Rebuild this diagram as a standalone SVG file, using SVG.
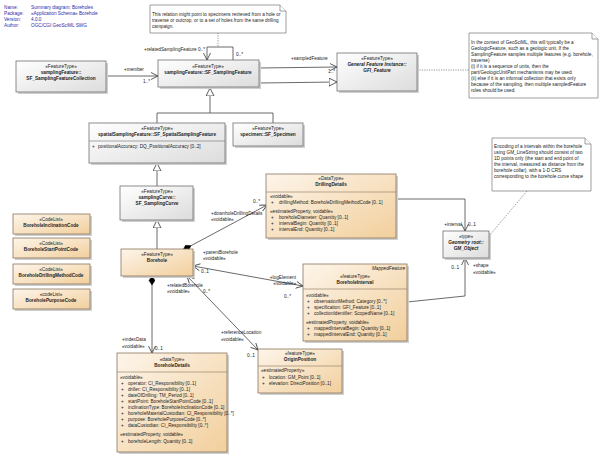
<svg xmlns="http://www.w3.org/2000/svg" width="602" height="458" viewBox="0 0 602 458">
<defs>
<linearGradient id="gg" x1="0" y1="0" x2="1" y2="1"><stop offset="0" stop-color="#ffffff"/><stop offset="1" stop-color="#dcdcdc"/></linearGradient>
<linearGradient id="og" x1="0" y1="0" x2="1" y2="1"><stop offset="0" stop-color="#fdf5ea"/><stop offset="1" stop-color="#f2cf9c"/></linearGradient>
<marker id="oa" markerUnits="userSpaceOnUse" markerWidth="10" markerHeight="10" refX="7" refY="4" orient="auto"><path d="M0,0.5 L7,4 L0,7.5" fill="none" stroke="#333" stroke-width="0.8"/></marker>
<marker id="oas" markerUnits="userSpaceOnUse" markerWidth="10" markerHeight="10" refX="0" refY="4" orient="auto"><path d="M7,0.5 L0,4 L7,7.5" fill="none" stroke="#333" stroke-width="0.8"/></marker>
<marker id="tri" markerUnits="userSpaceOnUse" markerWidth="12" markerHeight="12" refX="8" refY="4.5" orient="auto"><path d="M0,0.5 L8,4.5 L0,8.5 Z" fill="#fff" stroke="#333" stroke-width="0.8"/></marker>
<marker id="dia" markerUnits="userSpaceOnUse" markerWidth="12" markerHeight="8" refX="0" refY="3" orient="auto"><path d="M0,3 L4.5,0 L9,3 L4.5,6 Z" fill="#000" stroke="#000" stroke-width="0.5"/></marker>
</defs>
<style>
text{font-family:"Liberation Sans",Arial,sans-serif;font-size:4.7px;fill:#222}
.b{font-weight:bold}
.i{font-style:italic}
.c{text-anchor:middle}
.r{text-anchor:end}
.gb{fill:url(#gg);stroke:#707070;stroke-width:0.8}
.ob{fill:url(#og);stroke:#8a7560;stroke-width:0.8}
.sh{fill:#cfcfcf}
.note{fill:#fff;stroke:#777;stroke-width:0.7}
.sep{stroke:#8a7560;stroke-width:0.6}
.gsep{stroke:#707070;stroke-width:0.6}
.ln{fill:none;stroke:#444;stroke-width:0.8}
.dot{fill:none;stroke:#666;stroke-width:0.7;stroke-dasharray:1.2,1.2}
.hd{fill:#2a2aa8}
</style>

<g id="header">
<text x="4" y="9" class="hd">Name:</text><text x="31" y="9" class="hd">Summary diagram: Boreholes</text>
<text x="4" y="15" class="hd">Package:</text><text x="31" y="15" class="hd">«Application Schema» Borehole</text>
<text x="4" y="21" class="hd">Version:</text><text x="31" y="21" class="hd">4.0.0</text>
<text x="4" y="27" class="hd">Author:</text><text x="31" y="27" class="hd">OGC/CGI GeoSciML SWG</text>
</g>

<g id="connectors">
<path class="ln" d="M106,76 H158" marker-end="url(#oa)"/>
<path class="ln" d="M233,60 V47 H207 V60" marker-end="url(#oa)"/>
<path class="dot" d="M218,33 V47"/>
<path class="ln" d="M259,68 L337,67" marker-end="url(#oa)"/>
<path class="ln" d="M259,83 L337,82" marker-end="url(#tri)"/>
<path class="dot" d="M417,70 H469"/>
<path class="ln" d="M157,123 V113 H273 V123"/>
<path class="ln" d="M210,113 V88" marker-end="url(#tri)"/>
<path class="ln" d="M157,186 V163" marker-end="url(#tri)"/>
<path class="ln" d="M157,249 V220" marker-end="url(#tri)"/>
<path class="ln" d="M183,250 L267,205" marker-start="url(#dia)" marker-end="url(#oa)"/>
<path class="ln" d="M193,266 L303,286" marker-start="url(#oas)" marker-end="url(#oa)"/>
<path class="ln" d="M187,276 L258,350" marker-start="url(#oas)" marker-end="url(#oa)"/>
<path class="ln" d="M152,276 V353" marker-start="url(#dia)" marker-end="url(#oa)"/>
<path class="ln" d="M396,199 H465 V231" marker-end="url(#oa)"/>
<path class="ln" d="M407,302 L465,296 V258" marker-end="url(#oa)"/>
<path class="dot" d="M489,236 L527,191"/>
<text x="205" y="51" class="r">+relatedSamplingFeature 0..*</text>
<text x="236" y="56">0..*</text>
<text x="124" y="71">+member</text>
<text x="143" y="83">1..*</text>
<text x="291" y="60">+sampledFeature</text>
<text x="328" y="73">1..*</text>
<text x="211" y="215">+downholeDrillingDetails</text>
<text x="211" y="221">«voidable»</text>
<text x="253" y="203">0..*</text>
<text x="203" y="254">+parentBorehole</text>
<text x="203" y="260">«voidable»</text>
<text x="201" y="273">0..1</text>
<text x="296" y="279" class="r">+logElement</text>
<text x="296" y="285" class="r">«voidable»</text>
<text x="291" y="298" class="r">0..*</text>
<text x="167" y="287">+relatedBorehole</text>
<text x="167" y="293">«voidable»</text>
<text x="203" y="293">0..*</text>
<text x="221" y="334">+referenceLocation</text>
<text x="221" y="341">«voidable»</text>
<text x="247" y="357">0..1</text>
<text x="122" y="341">+indexData</text>
<text x="122" y="348">«voidable»</text>
<text x="155" y="350">0..1</text>
<text x="462" y="226" class="r">+interval</text>
<text x="468" y="226">0..1</text>
<text x="459" y="269" class="r">0..1</text>
<text x="473" y="267">+shape</text>
<text x="473" y="274">«voidable»</text>
</g>

<g id="note1">
<path class="note" d="M150,5 H280 L286,11 V33 H150 Z"/>
<path class="note" d="M280,5 V11 H286"/>
<text x="152" y="16">This relation might point to specimens retrieved from a hole or</text>
<text x="152" y="22">traverse or outcrop, or to a set of holes from the same drilling</text>
<text x="152" y="28">campaign.</text>
</g>

<g id="SF_SamplingFeatureCollection">
<rect class="sh" x="18" y="63" width="90" height="31"/>
<rect class="gb" x="16" y="61" width="90" height="31"/>
<text x="61" y="68" class="c">«FeatureType»</text>
<text x="61" y="74" class="c b">samplingFeature::</text>
<text x="61" y="80" class="c b">SF_SamplingFeatureCollection</text>
</g>

<g id="SF_SamplingFeature">
<rect class="sh" x="160" y="62" width="101" height="27"/>
<rect class="gb" x="158" y="60" width="101" height="27"/>
<text x="208" y="68" class="c">«FeatureType»</text>
<text x="208" y="74" class="c b">samplingFeature::SF_SamplingFeature</text>
</g>

<g id="GFI_Feature">
<rect class="sh" x="339" y="55" width="80" height="38"/>
<rect class="gb" x="337" y="53" width="80" height="38"/>
<text x="377" y="60" class="c">«FeatureType»</text>
<text x="377" y="66" class="c b i">General Feature Instance::</text>
<text x="377" y="72" class="c b i">GFI_Feature</text>
</g>

<g id="note2">
<path class="note" d="M469,33 H592 L598,39 V98 H469 Z"/>
<path class="note" d="M592,33 V39 H598"/>
<text x="471" y="44">In the context of GeoSciML, this will typically be a</text>
<text x="471" y="50">GeologicFeature, such as a geologic unit. If the</text>
<text x="471" y="56">SamplingFeature samples multiple features (e.g. borehole,</text>
<text x="471" y="62">traverse)</text>
<text x="471" y="68">(i) if it is a sequence of units, then the</text>
<text x="471" y="74">part/GeologicUnitPart mechanisms may be used.</text>
<text x="471" y="80">(ii) else if it is an informal collection that exists only</text>
<text x="471" y="86">because of the sampling, then multiple sampledFeature</text>
<text x="471" y="92">roles should be used.</text>
</g>

<g id="SF_SpatialSamplingFeature">
<rect class="sh" x="91" y="125" width="136" height="40"/>
<rect class="gb" x="89" y="123" width="136" height="40"/>
<line class="gsep" x1="89" y1="141" x2="225" y2="141"/>
<text x="157" y="130" class="c">«FeatureType»</text>
<text x="157" y="136" class="c b">spatialSamplingFeature::SF_SpatialSamplingFeature</text>
<text x="92" y="148">+</text><text x="98" y="148">positionalAccuracy: DQ_PositionalAccuracy [0..2]</text>
</g>

<g id="SF_Specimen">
<rect class="sh" x="235" y="125" width="70" height="23"/>
<rect class="gb" x="233" y="123" width="70" height="23"/>
<text x="268" y="130" class="c">«FeatureType»</text>
<text x="268" y="136" class="c b">specimen::SF_Specimen</text>
</g>

<g id="SF_SamplingCurve">
<rect class="sh" x="122" y="188" width="73" height="34"/>
<rect class="gb" x="120" y="186" width="73" height="34"/>
<text x="157" y="193" class="c">«FeatureType»</text>
<text x="157" y="199" class="c b">samplingCurve::</text>
<text x="157" y="205" class="c b">SF_SamplingCurve</text>
</g>

<g id="Borehole">
<rect class="sh" x="123" y="251" width="72" height="27"/>
<rect class="ob" x="121" y="249" width="72" height="27"/>
<text x="157" y="256" class="c">«FeatureType»</text>
<text x="157" y="262" class="c b">Borehole</text>
</g>

<g id="BoreholeInclinationCode">
<rect class="sh" x="15" y="216" width="77" height="20"/>
<rect class="ob" x="13" y="214" width="77" height="20"/>
<text x="51" y="221" class="c">«CodeList»</text>
<text x="51" y="227" class="c b">BoreholeInclinationCode</text>
</g>
<g id="BoreholeStartPointCode">
<rect class="sh" x="15" y="240" width="77" height="20"/>
<rect class="ob" x="13" y="238" width="77" height="20"/>
<text x="51" y="245" class="c">«CodeList»</text>
<text x="51" y="251" class="c b">BoreholeStartPointCode</text>
</g>
<g id="BoreholeDrillingMethodCode">
<rect class="sh" x="15" y="266" width="77" height="20"/>
<rect class="ob" x="13" y="264" width="77" height="20"/>
<text x="51" y="271" class="c">«CodeList»</text>
<text x="51" y="277" class="c b">BoreholeDrillingMethodCode</text>
</g>
<g id="BoreholePurposeCode">
<rect class="sh" x="15" y="291" width="77" height="20"/>
<rect class="ob" x="13" y="289" width="77" height="20"/>
<text x="51" y="296" class="c">«codeList»</text>
<text x="51" y="302" class="c b">BoreholePurposeCode</text>
</g>

<g id="DrillingDetails">
<rect class="sh" x="268" y="176" width="130" height="64"/>
<rect class="ob" x="266" y="174" width="130" height="64"/>
<line class="sep" x1="266" y1="192" x2="396" y2="192"/>
<text x="331" y="180" class="c">«DataType»</text>
<text x="331" y="186" class="c b">DrillingDetails</text>
<text x="270" y="198">«voidable»</text>
<text x="271" y="204">+</text><text x="279" y="204">drillingMethod: BoreholeDrillingMethodCode [0..1]</text>
<text x="270" y="213">«estimatedProperty, voidable»</text>
<text x="271" y="219">+</text><text x="279" y="219">boreholeDiameter: Quantity [0..1]</text>
<text x="271" y="225">+</text><text x="279" y="225">intervalBegin: Quantity [0..1]</text>
<text x="271" y="231">+</text><text x="279" y="231">intervalEnd: Quantity [0..1]</text>
</g>

<g id="note3">
<path class="note" d="M492,138 H585 L591,144 V191 H492 Z"/>
<path class="note" d="M585,138 V144 H591"/>
<text x="494" y="148">Encoding of a intervals within the borehole</text>
<text x="494" y="154">using GM_LineString should consist of two</text>
<text x="494" y="160">1D points only (the start and end point of</text>
<text x="494" y="166">the interval, measured as distance from the</text>
<text x="494" y="172">borehole collar), with a 1-D CRS</text>
<text x="494" y="178">corresponding to the borehole curve shape</text>
</g>

<g id="GM_Object">
<rect class="sh" x="445" y="233" width="46" height="27"/>
<rect class="gb" x="443" y="231" width="46" height="27"/>
<text x="466" y="238" class="c">«type»</text>
<text x="466" y="244" class="c b i">Geometry root::</text>
<text x="466" y="250" class="c b i">GM_Object</text>
</g>

<g id="BoreholeInterval">
<rect class="sh" x="305" y="266" width="104" height="77"/>
<rect class="ob" x="303" y="264" width="104" height="77"/>
<line class="sep" x1="303" y1="289" x2="407" y2="289"/>
<text x="405" y="270" class="r i">MappedFeature</text>
<text x="355" y="278" class="c">«featureType»</text>
<text x="355" y="284" class="c b">BoreholeInterval</text>
<text x="306" y="297">«voidable»</text>
<text x="307" y="303">+</text><text x="314" y="303">observationMethod: Category [0..*]</text>
<text x="307" y="309">+</text><text x="314" y="309">specification: GFI_Feature [0..1]</text>
<text x="307" y="315">+</text><text x="314" y="315">collectionIdentifier: ScopedName [0..1]</text>
<text x="306" y="324">«estimatedProperty, voidable»</text>
<text x="307" y="330">+</text><text x="314" y="330">mappedIntervalBegin: Quantity [0..1]</text>
<text x="307" y="336">+</text><text x="314" y="336">mappedIntervalEnd: Quantity [0..1]</text>
</g>

<g id="OriginPosition">
<rect class="sh" x="260" y="351" width="84" height="44"/>
<rect class="ob" x="258" y="349" width="84" height="44"/>
<line class="sep" x1="258" y1="366" x2="342" y2="366"/>
<text x="300" y="355" class="c">«featureType»</text>
<text x="300" y="361" class="c b">OriginPosition</text>
<text x="261" y="372">«estimatedProperty»</text>
<text x="262" y="379">+</text><text x="269" y="379">location: GM_Point [0..1]</text>
<text x="262" y="385">+</text><text x="269" y="385">elevation: DirectPosition [0..1]</text>
</g>

<g id="BoreholeDetails">
<rect class="sh" x="119" y="355" width="110" height="99"/>
<rect class="ob" x="117" y="353" width="110" height="99"/>
<line class="sep" x1="117" y1="372" x2="227" y2="372"/>
<text x="172" y="361" class="c">«dataType»</text>
<text x="172" y="367" class="c b">BoreholeDetails</text>
<text x="120" y="379">«voidable»</text>
<text x="121" y="385">+</text><text x="128" y="385">operator: CI_Responsibility [0..1]</text>
<text x="121" y="391">+</text><text x="128" y="391">driller: CI_Responsibility [0..1]</text>
<text x="121" y="397">+</text><text x="128" y="397">dateOfDrilling: TM_Period [0..1]</text>
<text x="121" y="403">+</text><text x="128" y="403">startPoint: BoreholeStartPointCode [0..1]</text>
<text x="121" y="409">+</text><text x="128" y="409">inclinationType: BoreholeInclinationCode [0..1]</text>
<text x="121" y="415">+</text><text x="128" y="415">boreholeMaterialCustodian: CI_Responsibility [0..*]</text>
<text x="121" y="421">+</text><text x="128" y="421">purpose: BoreholePurposeCode [0..*]</text>
<text x="121" y="427">+</text><text x="128" y="427">dataCustodian: CI_Responsibility [0..*]</text>
<text x="120" y="436">«estimatedProperty, voidable»</text>
<text x="121" y="443">+</text><text x="128" y="443">boreholeLength: Quantity [0..1]</text>
</g>
</svg>
